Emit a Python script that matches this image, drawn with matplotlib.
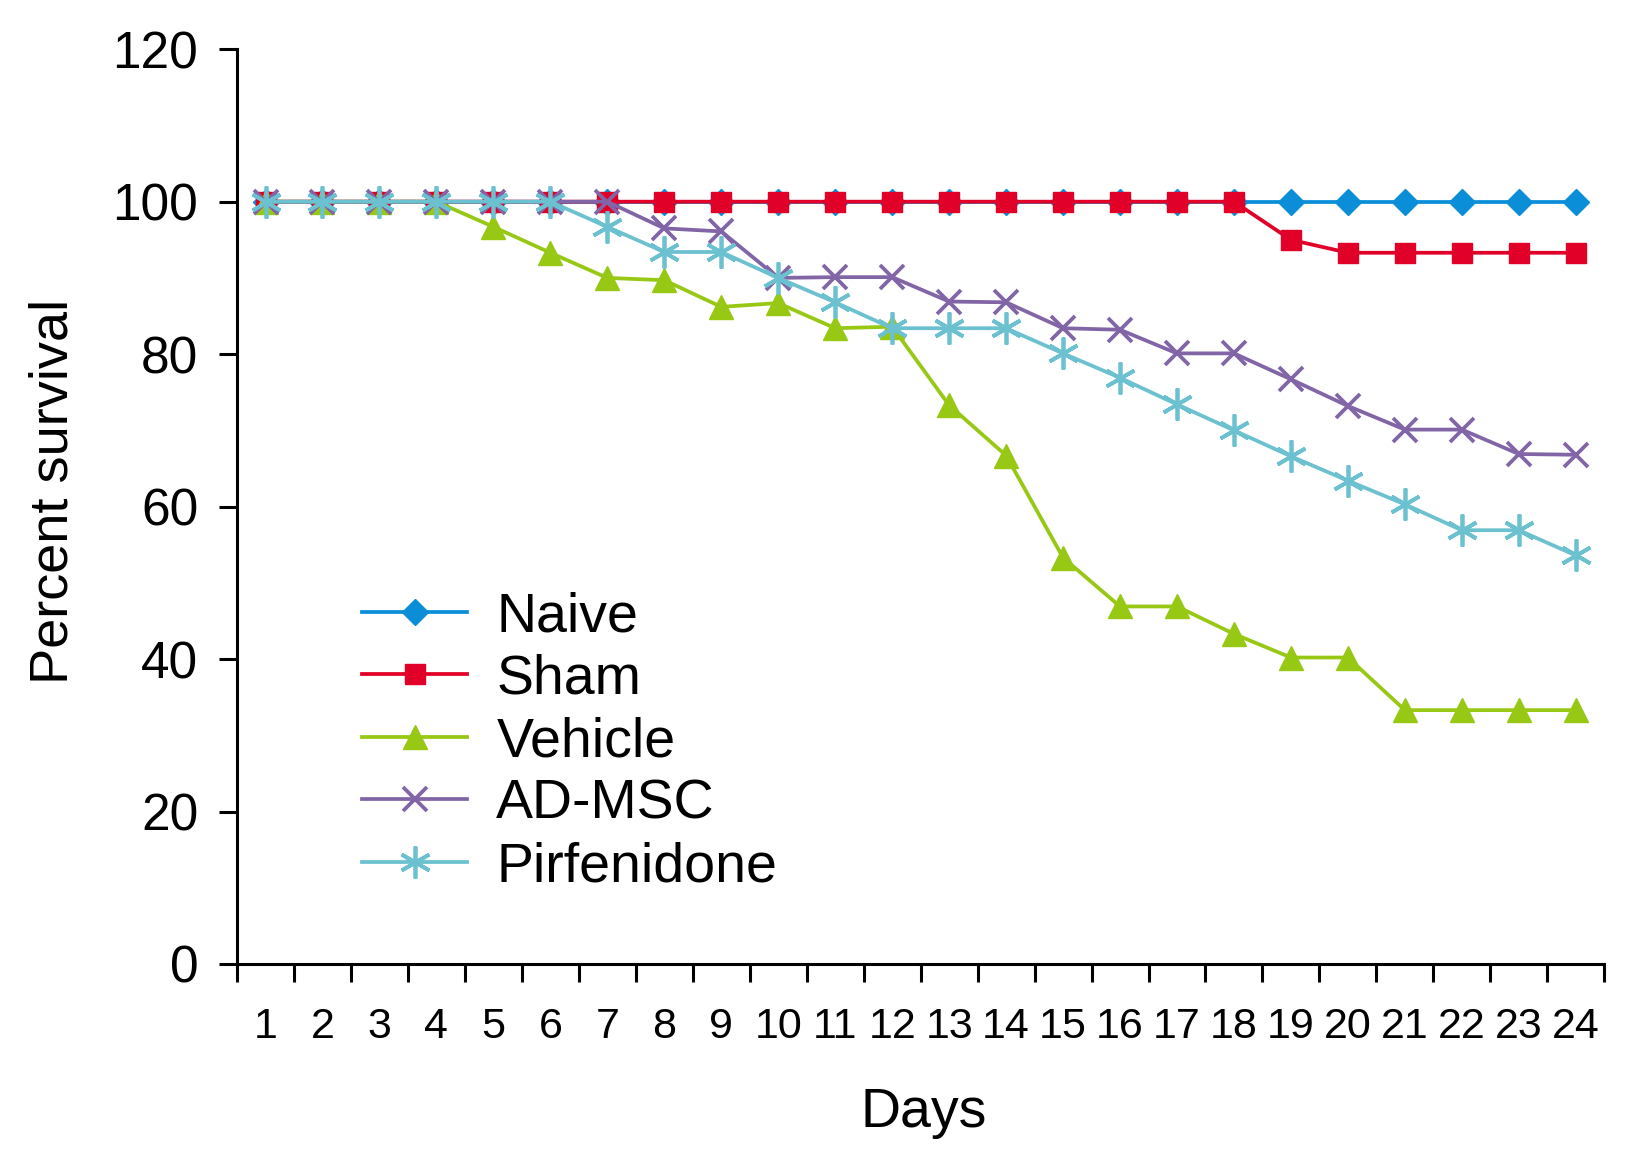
import numpy as np
import matplotlib
matplotlib.use('Agg')
matplotlib.rc('font', family=['Liberation Sans', 'DejaVu Sans'])
matplotlib.rc('legend', frameon=False)
import matplotlib.pyplot as plt

days = list(range(1, 25))
day_labels = [str(d) for d in days]

naive = [100] * 24
sham = [100] * 18 + [95.0, 93.3, 93.3, 93.3, 93.3, 93.3]
vehicle = [100, 100, 100, 100, 96.7, 93.3, 90.0, 89.7, 86.2, 86.7, 83.4, 83.6,
           73.3, 66.7, 53.3, 46.9, 46.9, 43.3, 40.2, 40.2, 33.3, 33.3, 33.3, 33.3]
ad_msc = [100, 100, 100, 100, 100, 100, 100, 96.5, 96.1, 90.0, 90.1, 90.1,
          86.9, 86.8, 83.4, 83.2, 80.1, 80.1, 76.7, 73.2, 70.1, 70.1, 66.9, 66.8]
pirfenidone = [100, 100, 100, 100, 100, 100, 96.7, 93.4, 93.4, 90.0, 86.8, 83.4,
               83.4, 83.4, 80.1, 76.9, 73.4, 70.0, 66.6, 63.4, 60.3, 56.9, 56.9, 53.6]

yticks = [0, 20, 40, 60, 80, 100, 120]


def main():
    fig = plt.figure(figsize=(16.37, 11.72), dpi=100)
    ax = fig.add_axes([0.1448, 0.1775, 0.980 - 0.1448, 0.958 - 0.1775])

    lw = 2.7
    ax.plot(days, naive, color='#0a8ed8', lw=lw, marker='D', ms=13,
            label='Naive')
    ax.plot(days, sham, color='#e10027', lw=lw, marker='s', ms=14,
            label='Sham')
    ax.plot(days, vehicle, color='#97c814', lw=lw, marker='^', ms=17.5,
            label='Vehicle')
    ax.plot(days, ad_msc, color='#8165a6', lw=lw, marker='x', ms=17.5,
            mew=2.7, label='AD-MSC')
    ax.plot(days, pirfenidone, color='#6bc1d0', lw=lw, marker=(6, 2, 0),
            ms=23, mew=2.7, label='Pirfenidone')

    ax.set_xlim(0.5, 24.5)
    ax.set_ylim(0, 120)
    ax.set_yticks(yticks)
    ax.set_yticklabels([str(v) for v in yticks], fontsize=37)
    ax.set_xticks(np.arange(0.5, 25, 1.0))
    ax.set_xticklabels([])
    ax.set_xticks(days, minor=True)
    ax.set_xticklabels(day_labels, minor=True, fontsize=31)
    ax.tick_params(axis='x', which='major', direction='out', length=13,
                   width=2.2)
    ax.tick_params(axis='x', which='minor', length=0, pad=31)
    ax.tick_params(axis='y', direction='out', length=13, width=2.2, pad=15)

    ax.spines['top'].set_visible(False)
    ax.spines['right'].set_visible(False)
    ax.spines['left'].set_linewidth(2.2)
    ax.spines['bottom'].set_linewidth(2.2)

    fig.text(0.0325, 0.581, 'Percent survival', rotation=90, fontsize=39,
             ha='center', va='center')
    fig.text(0.564, 0.0503, 'Days', fontsize=40, ha='center', va='center')

    ax.legend(loc='center left', bbox_to_anchor=(0.2211, 0.3666),
              bbox_transform=fig.transFigure, fontsize=40, borderpad=0,
              borderaxespad=0, handlelength=1.9, handletextpad=0.52,
              labelspacing=0.19)

    fig.savefig('out.png', dpi=100)


if __name__ == '__main__':
    main()
